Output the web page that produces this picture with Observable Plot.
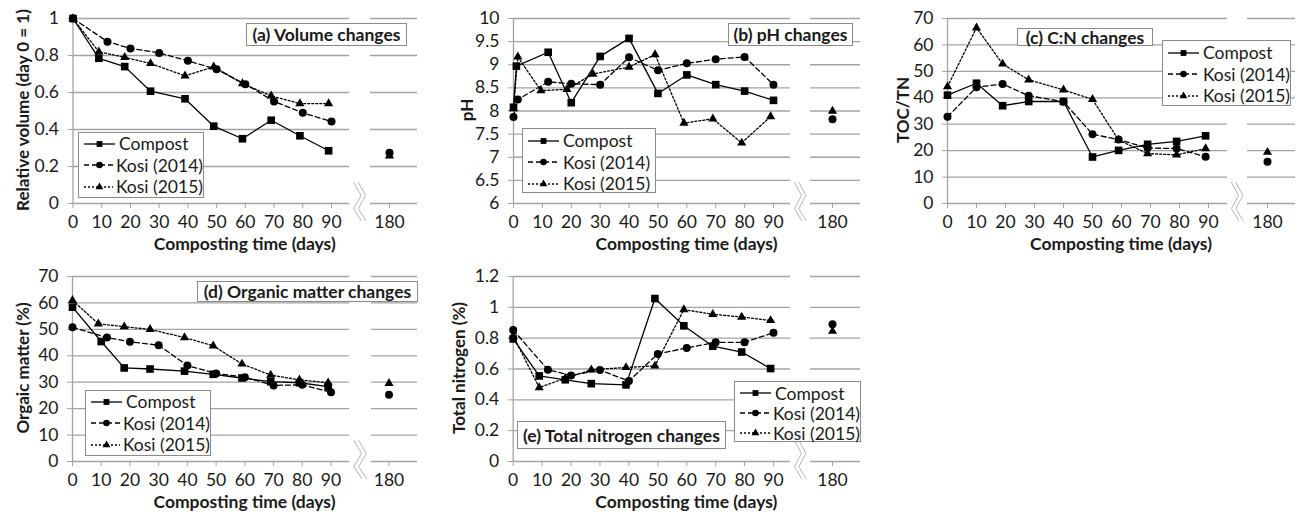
<!DOCTYPE html>
<html>
<head>
<meta charset="utf-8">
<script src="https://cdn.jsdelivr.net/npm/d3@7"></script>
<script src="https://cdn.jsdelivr.net/npm/@observablehq/plot@0.6"></script>
<style>
  html, body { margin: 0; padding: 0; background: #fff; }
  #root { position: relative; width: 1298px; height: 518px; overflow: hidden; font-family: Lato, "Open Sans", sans-serif; color: #1a1a1a; }
  .panel { position: absolute; }
  .panel svg { display: block; overflow: visible; }
  .plt [aria-label="x-axis tick"], .plt [aria-label="y-axis tick"] { stroke: #a3a3a3; }
  .plt [aria-label="x-axis"] line, .plt [aria-label="y-axis"] line { stroke: #a3a3a3; }
  .tbox { position: absolute; background: #fff; border: 1px solid #8a8a8a; font-weight: bold; font-size: 17.5px; white-space: nowrap; box-sizing: border-box; display: flex; align-items: center; justify-content: center; }
  .legend { position: absolute; background: #fff; border: 1px solid #8a8a8a; box-sizing: border-box; padding-left: 4px; }
  .lrow { display: flex; align-items: center; font-size: 17.5px; white-space: nowrap; }
  .lrow svg { display: block; margin-right: 3px; }
  .ytitle { position: absolute; font-weight: bold; font-size: 17px; white-space: nowrap; transform: translate(-50%, -50%) rotate(-90deg); }
  .xtitle { position: absolute; font-weight: bold; font-size: 17.5px; white-space: nowrap; transform: translate(-50%, -50%); }
</style>
</head>
<body>
<div id="root"></div>
<script>
// ---------------- DATA ----------------
const seriesNames = ["Compost", "Kosi (2014)", "Kosi (2015)"];
const xTickValues = [0, 10, 20, 30, 40, 50, 60, 70, 80, 90, 180];
const xTitle = "Composting time (days)";

// (a) Volume changes
const volTitle = "(a) Volume changes";
const volYLabel = "Relative volume (day 0 = 1)";
const volYTicks = [0, 0.2, 0.4, 0.6, 0.8, 1];
const volCompostDays = [0, 9, 18, 27, 39, 49, 59, 69, 79, 89];
const volCompost = [1.0, 0.785, 0.74, 0.607, 0.566, 0.418, 0.35, 0.45, 0.366, 0.285];
const volKosi14Days = [0, 12, 20, 30, 40, 50, 60, 70, 80, 90];
const volKosi14 = [1.0, 0.875, 0.838, 0.814, 0.771, 0.726, 0.645, 0.552, 0.49, 0.443];
const volKosi15Days = [0, 9, 18, 27, 39, 49, 59, 69, 79, 89];
const volKosi15 = [1.0, 0.82, 0.79, 0.757, 0.69, 0.739, 0.648, 0.582, 0.54, 0.54];
const vol180 = [null, 0.275, 0.258];

// (b) pH changes
const phTitle = "(b) pH changes";
const phYLabel = "pH";
const phYTicks = [6, 6.5, 7, 7.5, 8, 8.5, 9, 9.5, 10];
const phCompostDays = [0, 1, 12, 20, 30, 40, 50, 60, 70, 80, 90];
const phCompost = [8.08, 8.97, 9.27, 8.18, 9.18, 9.57, 8.38, 8.78, 8.57, 8.43, 8.23];
const phKosi14Days = [0, 1.5, 12, 20, 30, 40, 50, 60, 70, 80, 90];
const phKosi14 = [7.87, 8.25, 8.63, 8.59, 8.57, 9.16, 8.88, 9.03, 9.12, 9.17, 8.57];
const phKosi15Days = [0, 1.5, 9.5, 18.5, 27.5, 40, 49, 59, 69, 79, 89];
const phKosi15 = [8.05, 9.17, 8.44, 8.47, 8.8, 8.95, 9.22, 7.74, 7.83, 7.31, 7.88];
const ph180 = [null, 7.82, 8.0];

// (c) C:N changes
const cnTitle = "(c) C:N changes";
const cnYLabel = "TOC/TN";
const cnYTicks = [0, 10, 20, 30, 40, 50, 60, 70];
const cnDays = [0, 10, 19, 28, 40, 50, 59, 69, 79, 89];
const cnCompost = [41.0, 45.5, 37.0, 38.6, 38.6, 17.6, 20.1, 22.4, 23.5, 25.6];
const cnKosi14 = [32.8, 44.0, 45.2, 40.8, 38.5, 26.2, 24.2, 21.0, 20.8, 17.7];
const cnKosi15 = [44.2, 66.5, 52.8, 46.8, 43.0, 39.4, 24.0, 18.9, 18.4, 20.8];
const cn180 = [null, 15.8, 19.4];

// (d) Organic matter changes
const omTitle = "(d) Organic matter changes";
const omYLabel = "Orgaic matter (%)";
const omYTicks = [0, 10, 20, 30, 40, 50, 60, 70];
const omCompostDays = [0, 10, 18, 27, 39, 49, 59, 69, 79, 89];
const omCompost = [58.4, 45.4, 35.4, 35.0, 34.2, 33.0, 31.6, 30.2, 29.8, 28.3];
const omKosi14Days = [0, 12, 20, 30, 40, 50, 60, 70, 80, 90];
const omKosi14 = [50.8, 46.9, 45.3, 44.0, 36.3, 33.3, 31.9, 28.8, 29.0, 26.2];
const omKosi15Days = [0, 9, 18, 27, 39, 49, 59, 69, 79, 89];
const omKosi15 = [61.0, 52.1, 51.0, 50.0, 46.9, 43.8, 36.9, 32.7, 30.9, 29.8];
const om180 = [null, 25.3, 29.6];

// (e) Total nitrogen changes
const tnTitle = "(e) Total nitrogen changes";
const tnYLabel = "Total nitrogen (%)";
const tnYTicks = [0, 0.2, 0.4, 0.6, 0.8, 1, 1.2];
const tnCompostDays = [0, 9, 18, 27, 39, 49, 59, 69, 79, 89];
const tnCompost = [0.795, 0.555, 0.53, 0.505, 0.497, 1.057, 0.88, 0.748, 0.71, 0.603];
const tnKosi14Days = [0, 12, 20, 30, 40, 50, 60, 70, 80, 90];
const tnKosi14 = [0.853, 0.595, 0.558, 0.593, 0.522, 0.698, 0.737, 0.773, 0.773, 0.835];
const tnKosi15Days = [0, 9, 18, 27, 39, 49, 59, 69, 79, 89];
const tnKosi15 = [0.815, 0.48, 0.54, 0.595, 0.61, 0.62, 0.985, 0.955, 0.937, 0.915];
const tn180 = [null, 0.89, 0.845];

// ---------------- STYLE ----------------
const GRID = "#a3a3a3";
const seriesStyle = [
  {symbol: "square", r: 4.3, dash: null},
  {symbol: "circle", r: 4.0, dash: "5,3"},
  {symbol: "triangle", r: 3.4, dash: "2,2"}
];
// break mark shape (fractions of the gap width, pixel offsets around axis)
const breakFx = [[0.2, 0.55, 0.2, 0.55], [0.42, 0.77, 0.42, 0.77]];
const breakPy = [-21, -8, 5, 17];

const root = document.getElementById("root");

function buildPanel(cfg) {
  const H = 258, yTop = 18, yBot = 203;
  const k = (cfg.x90 - cfg.x0) / 90;
  const dGridEnd = 90 + (cfg.gridEnd - cfg.x90) / k;
  const dSecStart = 180 - (cfg.x180 - cfg.secStart) / k;
  const dSecEnd = 180 + (cfg.secEnd - cfg.x180) / k;
  const [yMin, yMax] = [cfg.yTicks[0], cfg.yTicks[cfg.yTicks.length - 1]];
  const perPx = (yMax - yMin) / (yBot - yTop);
  const marks = [];
  // gridlines in two segments
  marks.push(Plot.ruleY(cfg.yTicks, {x1: 0, x2: dGridEnd, stroke: GRID, strokeWidth: 1.3}));
  marks.push(Plot.ruleY(cfg.yTicks, {x1: dSecStart, x2: dSecEnd, stroke: GRID, strokeWidth: 1.3}));
  // y axis line
  marks.push(Plot.ruleX([0], {y1: yMin, y2: yMax, stroke: GRID, strokeWidth: 1.3}));
  // axis break mark
  for (const fx of breakFx) {
    const pts = fx.map((f, i) => ({x: dGridEnd + f * (dSecStart - dGridEnd), y: yMin - breakPy[i] * perPx}));
    marks.push(Plot.line(pts, {x: "x", y: "y", stroke: "#b5b5b5", strokeWidth: 1}));
  }
  // series
  cfg.series.forEach((s, i) => {
    const st = seriesStyle[i];
    const data = s.days.map((d, j) => ({day: d, v: s.vals[j]}));
    marks.push(Plot.line(data, {x: "day", y: "v", stroke: "#000", strokeWidth: 1.3, strokeDasharray: st.dash}));
  });
  cfg.series.forEach((s, i) => {
    const st = seriesStyle[i];
    const data = s.days.map((d, j) => ({day: d, v: s.vals[j]}));
    if (s.late != null) data.push({day: 180, v: s.late});
    marks.push(Plot.dot(data, {x: "day", y: "v", symbol: st.symbol, r: st.r, fill: "#000", stroke: "none"}));
  });
  const svg = Plot.plot({
    width: cfg.width, height: H,
    marginLeft: cfg.x0, marginRight: cfg.width - cfg.secEnd, marginTop: yTop, marginBottom: H - yBot,
    x: {type: "linear", domain: [0, 90, dGridEnd, dSecStart, 180, dSecEnd],
        range: [cfg.x0, cfg.x90, cfg.gridEnd, cfg.secStart, cfg.x180, cfg.secEnd],
        ticks: xTickValues, tickSize: 5, tickPadding: 7, tickFormat: d => String(d), label: null},
    y: {domain: [yMin, yMax], range: [yBot, yTop], ticks: cfg.yTicks, tickSize: 5, tickPadding: 9,
        tickFormat: d => String(d), label: null},
    style: {fontFamily: "Lato, 'Open Sans', sans-serif", fontSize: "17.5px", color: "#1a1a1a", background: "transparent", overflow: "visible"},
    marks
  });
  svg.classList.add("plt");
  const div = document.createElement("div");
  div.className = "panel";
  div.style.left = cfg.left + "px";
  div.style.top = cfg.top + "px";
  div.appendChild(svg);
  root.appendChild(div);

  // axis titles
  const yt = document.createElement("div");
  yt.className = "ytitle";
  yt.textContent = cfg.ylabel;
  yt.style.left = (cfg.left + cfg.ytx) + "px";
  yt.style.top = (cfg.top + 110) + "px";
  root.appendChild(yt);
  const xt = document.createElement("div");
  xt.className = "xtitle";
  xt.textContent = xTitle;
  xt.style.left = (cfg.left + (cfg.x0 + cfg.secEnd) / 2) + "px";
  xt.style.top = (cfg.top + 243) + "px";
  root.appendChild(xt);

  // title box
  const tb = document.createElement("div");
  tb.className = "tbox";
  tb.textContent = cfg.title;
  Object.assign(tb.style, {left: cfg.tbox[0] + "px", top: cfg.tbox[1] + "px", width: cfg.tbox[2] + "px", height: cfg.tbox[3] + "px"});
  root.appendChild(tb);

  // legend box
  const lg = document.createElement("div");
  lg.className = "legend";
  Object.assign(lg.style, {left: cfg.legend[0] + "px", top: cfg.legend[1] + "px", width: cfg.legend[2] + "px", height: cfg.legend[3] + "px", paddingTop: cfg.legend[5] + "px"});
  seriesNames.forEach((name, i) => {
    const st = seriesStyle[i];
    const row = document.createElement("div");
    row.className = "lrow";
    row.style.height = cfg.legend[4] + "px";
    const ns = "http://www.w3.org/2000/svg";
    const sw = document.createElementNS(ns, "svg");
    sw.setAttribute("width", 33); sw.setAttribute("height", 12);
    const ln = document.createElementNS(ns, "line");
    ln.setAttribute("x1", 1); ln.setAttribute("x2", 32); ln.setAttribute("y1", 6); ln.setAttribute("y2", 6);
    ln.setAttribute("stroke", "#000"); ln.setAttribute("stroke-width", 1.3);
    if (st.dash) ln.setAttribute("stroke-dasharray", st.dash);
    sw.appendChild(ln);
    const p = document.createElementNS(ns, "path");
    p.setAttribute("d", d3.symbol(st.symbol === "square" ? d3.symbolSquare : st.symbol === "circle" ? d3.symbolCircle : d3.symbolTriangle, st.symbol === "triangle" ? 26 : 34)());
    p.setAttribute("transform", "translate(16.5,6)");
    p.setAttribute("fill", "#000");
    sw.appendChild(p);
    row.appendChild(sw);
    const t = document.createElement("span");
    t.textContent = name;
    row.appendChild(t);
    lg.appendChild(row);
  });
  root.appendChild(lg);
}

function mk(days, vals, late) { return {days, vals, late}; }

buildPanel({left: 0, top: 0, width: 430, x0: 72.5, x90: 331, gridEnd: 349, secStart: 370, x180: 389, secEnd: 417,
  yTicks: volYTicks, ylabel: volYLabel, ytx: 22, title: volTitle,
  tbox: [246, 23, 161, 23], legend: [78, 132, 126, 66, 21.5, 0],
  series: [mk(volCompostDays, volCompost, vol180[0]), mk(volKosi14Days, volKosi14, vol180[1]), mk(volKosi15Days, volKosi15, vol180[2])]});

buildPanel({left: 430, top: 0, width: 430, x0: 83, x90: 343, gridEnd: 360, secStart: 380, x180: 402, secEnd: 430,
  yTicks: phYTicks, ylabel: phYLabel, ytx: 36, title: phTitle,
  tbox: [728, 23, 125, 23], legend: [522, 128, 134, 65, 21.5, 1],
  series: [mk(phCompostDays, phCompost, ph180[0]), mk(phKosi14Days, phKosi14, ph180[1]), mk(phKosi15Days, phKosi15, ph180[2])]});

buildPanel({left: 860, top: 0, width: 438, x0: 87, x90: 348, gridEnd: 367, secStart: 387, x180: 407, secEnd: 435,
  yTicks: cnYTicks, ylabel: cnYLabel, ytx: 42, title: cnTitle,
  tbox: [1017, 28, 136, 18], legend: [1162, 40, 129, 66, 21.5, 1],
  series: [mk(cnDays, cnCompost, cn180[0]), mk(cnDays, cnKosi14, cn180[1]), mk(cnDays, cnKosi15, cn180[2])]});

buildPanel({left: 0, top: 258, width: 430, x0: 72, x90: 330.5, gridEnd: 349, secStart: 371, x180: 388.5, secEnd: 417,
  yTicks: omYTicks, ylabel: omYLabel, ytx: 22, title: omTitle,
  tbox: [197, 281, 221, 21], legend: [85, 390, 126, 66, 21.5, 0],
  series: [mk(omCompostDays, omCompost, om180[0]), mk(omKosi14Days, omKosi14, om180[1]), mk(omKosi15Days, omKosi15, om180[2])]});

buildPanel({left: 430, top: 258, width: 430, x0: 82.7, x90: 343, gridEnd: 360, secStart: 380, x180: 402, secEnd: 430,
  yTicks: tnYTicks, ylabel: tnYLabel, ytx: 28, title: tnTitle,
  tbox: [517, 421, 209, 28], legend: [734, 381, 127, 61, 20, 1],
  series: [mk(tnCompostDays, tnCompost, tn180[0]), mk(tnKosi14Days, tnKosi14, tn180[1]), mk(tnKosi15Days, tnKosi15, tn180[2])]});
</script>
</body>
</html>
